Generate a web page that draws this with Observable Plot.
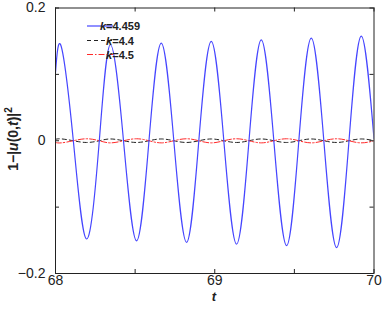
<!DOCTYPE html>
<html><head><meta charset="utf-8">
<script src="https://cdn.jsdelivr.net/npm/d3@7"></script>
<script src="https://cdn.jsdelivr.net/npm/@observablehq/plot@0.6"></script>
<style>
body{margin:0;background:#fff}
svg{font-family:"Liberation Sans",Arial,Helvetica,sans-serif}
</style>
</head><body><div id="chart"></div>
<script>
// t values at extrema and zero crossings
const tBlue = [68.000, 68.036, 68.112, 68.195, 68.275, 68.345, 68.427, 68.509, 68.587, 68.664, 68.743, 68.823, 68.900, 68.978, 69.057, 69.137, 69.215, 69.292, 69.371, 69.451, 69.528, 69.606, 69.685, 69.765, 69.843, 69.920, 70.000];
const vBlue = [0.103, 0.142, 0, -0.148, 0, 0.1446, 0, -0.1507, 0, 0.147, 0, -0.153, 0, 0.1496, 0, -0.1557, 0, 0.152, 0, -0.158, 0, 0.1547, 0, -0.161, 0, 0.1577, 0.003];
const tSmall = tBlue;
const vBlack = [0.0022, 0.0028, 0, -0.0026, 0, 0.0027, 0, -0.0026, 0, 0.0027, 0, -0.0026, 0, 0.0027, 0, -0.0026, 0, 0.0027, 0, -0.0026, 0, 0.0027, 0, -0.0026, 0, 0.0027, 0.0002];
const vRed = [-0.0026, -0.0032, 0, 0.0030, 0, -0.0032, 0, 0.0030, 0, -0.0032, 0, 0.0030, 0, -0.0032, 0, 0.0030, 0, -0.0032, 0, 0.0030, 0, -0.0032, 0, 0.0030, 0, -0.0032, -0.0002];

const kLabels = ["4.459", "4.4", "4.5"];
const xTickValues = [68, 68.5, 69, 69.5, 70];
const xTickLabels = [68, 69, 70];
const yTickValues = [-0.2, -0.1, 0, 0.1, 0.2];
const yTickLabels = [-0.2, 0, 0.2];

const blue = tBlue.map((t, i) => ({t, v: vBlue[i]}));
const black = tSmall.map((t, i) => ({t, v: vBlack[i]}));
const red = tSmall.map((t, i) => ({t, v: vRed[i]}));

const fmt = d => String(d).replace("-", "−");

const plot = Plot.plot({
  width: 382, height: 311,
  marginLeft: 55, marginRight: 8.5, marginTop: 7.5, marginBottom: 38,
  style: {fontFamily: '"Liberation Sans",Arial,sans-serif', fontSize: "13px", color: "#222", background: "white"},
  x: {domain: [68, 70]},
  y: {domain: [-0.2, 0.2]},
  marks: [
    Plot.line(black, {x: "t", y: "v", stroke: "#222", strokeWidth: 1, strokeDasharray: "4,3", curve: "natural", clip: true}),
    Plot.line(red, {x: "t", y: "v", stroke: "#ff2a2a", strokeWidth: 1, strokeDasharray: "6,2,1.5,2", curve: "natural", clip: true}),
    Plot.line(blue, {x: "t", y: "v", stroke: "#4646ff", strokeWidth: 1.2, curve: "natural", clip: true}),
    Plot.frame({stroke: "#222", strokeWidth: 1}),
    Plot.ruleX(xTickValues, {x: d => d, y1: -0.2, y2: -0.2, insetTop: -4, insetBottom: 0, stroke: "#222"}),
    Plot.ruleX(xTickValues, {x: d => d, y1: 0.2, y2: 0.2, insetTop: 0, insetBottom: -4, stroke: "#222"}),
    Plot.ruleY(yTickValues, {y: d => d, x1: 68, x2: 68, insetLeft: 0, insetRight: -4, stroke: "#222"}),
    Plot.ruleY(yTickValues, {y: d => d, x1: 70, x2: 70, insetLeft: -4, insetRight: 0, stroke: "#222"}),
    Plot.axisX({ticks: xTickLabels, tickFormat: fmt, tickSize: 0, tickPadding: 2, label: null, fontSize: 14}),
    Plot.axisY({ticks: yTickLabels, tickFormat: fmt, tickSize: 0, tickPadding: 10, label: null, fontSize: 14})
  ]
});
document.getElementById("chart").appendChild(plot);

const svg = d3.select(plot);
// axis titles
svg.append("text").attr("x", 214).attr("y", 301).attr("text-anchor", "middle")
  .attr("font-size", 13).attr("font-weight", "bold").attr("font-style", "italic").attr("fill", "#222").text("t");
const yt = svg.append("text").attr("transform", "translate(18,139) rotate(-90)").attr("text-anchor", "middle")
  .attr("font-size", 14).attr("font-weight", "bold").attr("fill", "#222");
yt.append("tspan").text("1−|");
yt.append("tspan").attr("font-style", "italic").text("u");
yt.append("tspan").text("(0,");
yt.append("tspan").attr("font-style", "italic").text("t");
yt.append("tspan").text(")|");
yt.append("tspan").attr("font-size", 10).attr("dy", -6).text("2");

// legend
const legStyles = [
  {stroke: "#4646ff", dash: null, w: 1.2},
  {stroke: "#222", dash: "4,3", w: 1},
  {stroke: "#ff2a2a", dash: "6,2,1.5,2", w: 1}
];
const legY = [26, 40.5, 54.5];
kLabels.forEach((k, i) => {
  svg.append("line").attr("x1", 87).attr("x2", 113).attr("y1", legY[i]).attr("y2", legY[i])
    .attr("stroke", legStyles[i].stroke).attr("stroke-width", legStyles[i].w)
    .attr("stroke-dasharray", legStyles[i].dash);
  const tx = svg.append("text").attr("x", 120).attr("y", legY[i] + 4).attr("font-size", 11)
    .attr("font-weight", "bold").attr("fill", "#222");
  tx.append("tspan").attr("font-style", "italic").text("k");
  tx.append("tspan").text("=" + k);
});
</script></body></html>
